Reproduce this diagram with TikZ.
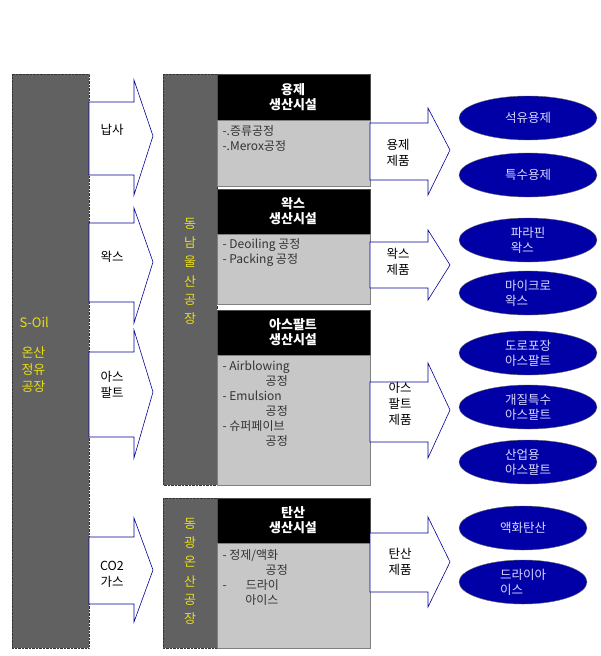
\documentclass[tikz,border=0pt]{standalone}
\usepackage{fontspec}
\usetikzlibrary{shapes.geometric}
\setmainfont{Noto Sans CJK KR}
\begin{document}
\begin{tikzpicture}[x=1pt,y=-1pt,
 dbar/.style={fill=black!62,draw=black!80,densely dotted},
 head/.style={fill=black,draw=black!70},
 gbox/.style={fill=black!22,draw=black!50},
 arr/.style={fill=white,draw=blue!60!black,line width=0.6pt},
 prod/.style={ellipse,fill=blue!65!black,draw=black!60,text=white!85!blue,minimum width=138pt,minimum height=44pt,inner sep=0pt,align=left,font=\fontsize{12.5}{15}\selectfont},
 lbl/.style={align=center,font=\fontsize{12.5}{16}\selectfont},
 htxt/.style={text=white,align=center,font=\bfseries\fontsize{13}{15}\selectfont},
 btxt/.style={anchor=north west,align=left,text=black!80,font=\fontsize{12}{15}\selectfont},
 ytxt/.style={text=yellow!90!black,align=center,font=\fontsize{13}{17}\selectfont}]
\useasboundingbox (0,0) rectangle (600,656);
\newcommand{\myarrow}[8]{\draw[arr] (#1,#5)--(#2,#5)--(#2,#4)--(#3,#8)--(#2,#7)--(#2,#6)--(#1,#6)--cycle;}
% left bar
\draw[dbar] (12,74) rectangle (89,648);
\node[ytxt,anchor=west] (soil) at (16,322) {S-Oil};
\node[ytxt,anchor=north west] (onsan) at (18,343) {온산\\정유\\공장};
% left arrows
\myarrow{89}{134}{153}{80}{102}{175}{195}{136}
\myarrow{89}{134}{153}{208}{223}{302}{323}{262}
\myarrow{89}{134}{153}{330}{352}{437}{458}{392}
\myarrow{89}{134}{153}{518}{537}{604}{622}{570}
\node[lbl] (a1) at (112,130) {납사};
\node[lbl] (a2) at (112,257) {왁스};
\node[lbl] (a3) at (112,385) {아스\\팔트};
\node[lbl] (a4) at (112,574) {CO2\\가스};
% middle bars
\draw[dbar] (163,74) rectangle (217,485);
\draw[dbar] (163,498) rectangle (217,648);
\foreach \c [count=\i] in {동,남,울,산,공,장}
  \node[ytxt] (u\i) at (190,205+\i*19) {\c};
\foreach \c [count=\i] in {동,광,온,산,공,장}
  \node[ytxt] (k\i) at (190,505+\i*19) {\c};
% boxes
\draw[head] (217,74) rectangle (370,120);
\draw[gbox] (217,120) rectangle (370,186);
\draw[head] (217,189) rectangle (370,234);
\draw[gbox] (217,234) rectangle (370,304);
\draw[head] (217,310) rectangle (370,355);
\draw[gbox] (217,355) rectangle (370,485);
\draw[head] (217,498) rectangle (370,543);
\draw[gbox] (217,543) rectangle (370,648);
\node[htxt] (h1) at (293,97) {용제\\생산시설};
\node[htxt] (h2) at (293,211) {왁스\\생산시설};
\node[htxt] (h3) at (293,332) {아스팔트\\생산시설};
\node[htxt] (h4) at (293,520) {탄산\\생산시설};
\node[btxt] (b1) at (219,122) {-.증류공정\\-.Merox공정};
\node[btxt] (b2) at (219,235) {- Deoiling 공정\\- Packing 공정};
\node[btxt] (b3) at (219,357) {- Airblowing\\\hspace*{3.6em}공정\\- Emulsion\\\hspace*{3.6em}공정\\- 슈퍼페이브\\\hspace*{3.6em}공정};
\node[btxt] (b4) at (219,546) {- 정제/액화\\\hspace*{3.6em}공정\\-\hspace{1.6em}드라이\\\hspace*{1.9em}아이스};
% right arrows
\myarrow{370}{428}{450}{108}{123}{180}{195}{150}
\myarrow{370}{428}{450}{230}{242}{288}{300}{265}
\myarrow{370}{428}{450}{363}{382}{442}{458}{410}
\myarrow{370}{428}{450}{517}{533}{592}{607}{562}
\node[lbl] (r1) at (398,153) {용제\\제품};
\node[lbl] (r2) at (398,262) {왁스\\제품};
\node[lbl] (r3) at (400,404) {아스\\팔트\\제품};
\node[lbl] (r4) at (400,562) {탄산\\제품};
% products
\node[prod] (p1) at (528,118) {석유용제};
\node[prod] (p2) at (528,175) {특수용제};
\node[prod] (p3) at (528,240) {파라핀\\왁스};
\node[prod] (p4) at (528,293) {마이크로\\왁스};
\node[prod] (p5) at (528,353) {도로포장\\아스팔트};
\node[prod] (p6) at (528,407) {개질특수\\아스팔트};
\node[prod] (p7) at (528,462) {산업용\\아스팔트};
\node[prod,minimum width=128pt] (p8) at (523,528) {액화탄산};
\node[prod,minimum width=128pt] (p9) at (523,582) {드라이아\\이스};
\end{tikzpicture}
\end{document}
